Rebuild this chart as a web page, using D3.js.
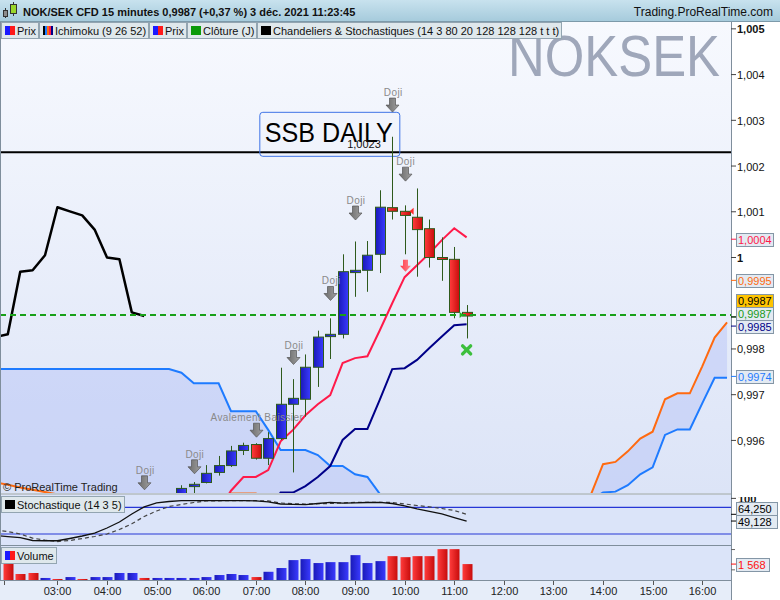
<!DOCTYPE html>
<html>
<head>
<meta charset="utf-8">
<script src="https://cdn.jsdelivr.net/npm/d3@7"></script>
<style>
  body { margin: 0; background: #fff; }
  svg { display: block; font-family: "Liberation Sans", Arial, sans-serif; }
</style>
</head>
<body>
<svg id="chart" width="780" height="600"></svg>
<script>

// bar 0 = 02:00, one bar every 15 minutes; candles below the price window are not listed
var candleStart = 14;
var opens  = [0.99476, 0.99499, 0.99508, 0.99530, 0.99545, 0.99578, 0.99591, 0.99561, 0.99604, 0.99679, 0.99690, 0.99760,
              0.99827, 0.99832, 0.99967, 0.99972, 1.00007, 1.00109, 1.00101, 1.00088, 1.00063, 1.00000, 0.99996, 0.99880];
var highs  = [0.99502, 0.99509, 0.99546, 0.99566, 0.99588, 0.99595, 0.99594, 0.99618, 0.99759, 0.99734, 0.99788, 0.99840,
              0.99867, 1.00007, 1.00035, 1.00036, 1.00147, 1.00264, 1.00114, 1.00151, 1.00083, 1.00044, 1.00023, 0.99896];
var lows   = [0.99470, 0.99476, 0.99506, 0.99523, 0.99542, 0.99568, 0.99558, 0.99546, 0.99601, 0.99530, 0.99652, 0.99717,
              0.99778, 0.99823, 0.99914, 0.99925, 0.99966, 1.00083, 1.00007, 0.99958, 0.99978, 0.99949, 0.99867, 0.99823];
var closes = [0.99495, 0.99504, 0.99528, 0.99545, 0.99577, 0.99589, 0.99561, 0.99604, 0.99679, 0.99692, 0.99760, 0.99826,
              0.99832, 0.99969, 0.99972, 1.00005, 1.00110, 1.00101, 1.00092, 1.00061, 1.00000, 0.99996, 0.99880, 0.99872];

var volumes = [1700, 590, 690, 200, 100, 290, 100, 290, 290, 690, 690, 200, 200, 200, 200, 200, 290, 490, 590,
               490, 290, 810, 1180, 1960, 2060, 1670, 1760, 1760, 2450, 1670, 1860, 2350, 2250, 2350, 2350, 3040, 3040, 1568];
var volumeDown = [1, 1, 1, 0, 1, 0, 1, 0, 0, 0, 0, 1, 0, 0, 0, 0, 0, 0, 0, 0, 1, 0, 0, 0, 0, 0, 0, 0, 0, 0, 0,
                  1, 1, 1, 1, 1, 1, 1];

// Ichimoku (9 26 52)
var tenkanStart = 17;
var tenkan = [0.99448, 0.99490, 0.99520, 0.99520, 0.99535, 0.99598, 0.99623, 0.99655, 0.99679, 0.99699, 0.99769,
              0.99780, 0.99784, 0.99841, 0.99900, 0.99957, 0.99983, 1.00009, 1.00038, 1.00064, 1.00044];
var kijunStart = 21;
var kijun = [0.99448, 0.99486, 0.99486, 0.99500, 0.99520, 0.99544, 0.99601, 0.99625, 0.99625, 0.99689, 0.99756,
             0.99758, 0.99776, 0.99802, 0.99827, 0.99852, 0.99854];
var cloudStart = -1;
var ssa = [0.99756, 0.99756, 0.99756, 0.99756, 0.99756, 0.99756, 0.99756, 0.99756, 0.99756, 0.99756, 0.99756,
           0.99756, 0.99756, 0.99756, 0.99756, 0.99748, 0.99725, 0.99725, 0.99725, 0.99664, 0.99664, 0.99664,
           0.99623, 0.99579, 0.99579, 0.99579, 0.99568, 0.99544, 0.99544, 0.99526, 0.99520, 0.99483,
           null, null, null, null, null, null, null, null, null, null, null, null, null, null, null, null,
           0.99470, 0.99486, 0.99488, 0.99502, 0.99526, 0.99541, 0.99612, 0.99624, 0.99624, 0.99681, 0.99737, 0.99737];
var ssb = [0.99508, 0.99503, 0.99497, 0.99492, 0.99487, 0.99482, 0.99476,
           null, null, null, null, null, null, null, null, null, null, null,
           0.99470, 0.99484, 0.99484, 0.99484, 0.99470,
           null, null, null, null, null, null, null, null, null, null, null, null, null, null, null, null,
           null, null, null, null, null, null, null, null, null,
           0.99480, 0.99548, 0.99553, 0.99576, 0.99604, 0.99619, 0.99690, 0.99703, 0.99703, 0.99762, 0.99825, 0.99858];
var chikouShift = 26;

// Stochastique (14 3 5), from bar -1
var stochStart = -1;
var stochK = [16.6, 13.9, 11.7, 5.4, 4.9, 4.9, 9.9, 15.5, 22.2, 33.5, 47, 65, 81, 89.7, 93, 94.8, 94.8, 94.8, 94.8,
              94.8, 94.8, 94.6, 92, 87.4, 86.5, 85.8, 88.5, 91, 89.2, 90, 90.8, 91.2, 88.5, 83.4, 76.2, 70.6, 65, 57, 49.128];
var stochD = [29, 25.6, 20, 10.6, 6.5, 3.1, 5.4, 9.9, 14.4, 20, 30, 43, 59.3, 71.7, 81.8, 86.3, 90.8, 94.2, 94.6,
              94.8, 94.8, 94.8, 94.2, 89.7, 87.9, 87.4, 87.9, 88.5, 90, 91, 91.2, 91.2, 90.8, 87.4, 84, 81.1, 77.3, 72.8, 64.25];
var stochLevels = [80, 20];

var closeDaily = 0.99874;
var ssbDaily = 1.0023;
var ssbDailyBar = 30;

// candle pattern markers
var patternBars  = [11, 15, 20, 23, 26, 28, 31, 32];
var patternNames = ['Doji', 'Doji', 'Avalement Baissier', 'Doji', 'Doji', 'Doji', 'Doji', 'Doji'];
var patternTips  = [0.99492, 0.99527, 0.99607, 0.99766, 0.99906, 1.00082, 1.00318, 1.00167];
var sellBar = 32, sellTip = 0.99969;
var crossBar = 37, crossPrice = 0.99798;

var priceTicks = [1.005, 1.004, 1.003, 1.002, 1.001, 1.000, 0.998, 0.997, 0.996];
var priceTickLabels = ['1,005', '1,004', '1,003', '1,002', '1,001', '1', '0,998', '0,997', '0,996'];
var hourLabels = ['03:00', '04:00', '05:00', '06:00', '07:00', '08:00', '09:00', '10:00', '11:00', '12:00',
                  '13:00', '14:00', '15:00', '16:00'];

var valueLabels = ['1,0004', '0,9995', '0,9987', '0,9987', '0,9985', '0,9974'];
var valueLevels = [1.0004, 0.9995, 0.9987, 0.9987, 0.9985, 0.9974];
var valueColors = ['#ff1a4a', '#ff6a10', '#1a9a1a', '#000000', '#000088', '#1e7bff'];
var valueFills  = ['#e3eaf2', '#e3eaf2', '#e3eaf2', '#ffc400', '#e3eaf2', '#e3eaf2'];

var legendNames = ['Prix', 'Ichimoku (9 26 52)', 'Prix', 'Clôture (J)',
                   'Chandeliers & Stochastiques (14 3 80 20 128 128 128 t t t)'];
var legendIcons = [['#1a1aff', '#ff1a1a'], ['#000000', '#1e7bff', '#ff6a10', '#ff1a4a', '#000088'],
                   ['#1a1aff', '#ff1a1a'], ['#0a9a0a'], ['#000000']];

var svg = d3.select('#chart'),
    axisX = 731,
    mainTop = 22, mainBottom = 493,
    stoTop = 495, stoBottom = 545,
    volTop = 546, volBottom = 580;

var x = d3.scaleLinear().domain([-0.63, 58.32]).range([0, axisX]),
    y = d3.scaleLinear().domain([0.99485, 1.00515]).range([mainBottom, mainTop]),
    yS = d3.scaleLinear().domain([-4.7, 107.6]).range([stoBottom, stoTop]),
    yV = d3.scaleLinear().domain([0, 3350]).range([volBottom, volTop]);

var defs = svg.append('defs');

function gradient(id, vertical, stops) {
  var g = defs.append('linearGradient').attr('id', id)
      .attr('x1', 0).attr('y1', 0).attr('x2', vertical ? 0 : 1).attr('y2', vertical ? 1 : 0);
  stops.forEach(function(s, i) {
    g.append('stop').attr('offset', i / (stops.length - 1)).attr('stop-color', s);
  });
}
gradient('bgMain', true, ['#f7f9fe', '#dce4f7']);
gradient('bgHead', true, ['#c8e2ee', '#a6cbdc']);
gradient('gBlue', false, ['#1a1ab8', '#3a3aff']);
gradient('gRed', false, ['#ff3c3c', '#c80c0c']);
gradient('gArrow', false, ['#6c6c6c', '#a0a0a0']);
gradient('gSell', false, ['#ff3848', '#ff8890']);

function clip(id, x0, y0, w, h) {
  defs.append('clipPath').attr('id', id)
    .append('rect').attr('x', x0).attr('y', y0).attr('width', w).attr('height', h);
}
clip('cMain', 0, mainTop, axisX, mainBottom - mainTop);
clip('cSto', 0, stoTop, axisX, stoBottom - stoTop);
clip('cStoAxis', axisX, stoTop + 2, 49, stoBottom - stoTop - 2);

// backgrounds
svg.append('rect').attr('width', 780).attr('height', 600).attr('fill', '#ffffff');
svg.append('rect').attr('x', 0).attr('y', mainTop).attr('width', axisX).attr('height', mainBottom - mainTop)
    .attr('fill', 'url(#bgMain)');
svg.append('rect').attr('x', 0).attr('y', stoTop).attr('width', axisX).attr('height', stoBottom - stoTop)
    .attr('fill', '#dbe4f9');
svg.append('rect').attr('x', 0).attr('y', volTop).attr('width', axisX).attr('height', volBottom - volTop)
    .attr('fill', '#dbe4f9');
svg.append('rect').attr('x', 0).attr('y', volBottom).attr('width', axisX).attr('height', 600 - volBottom)
    .attr('fill', '#e6edf9');

// ---------- main panel ----------
var main = svg.append('g').attr('clip-path', 'url(#cMain)');

main.append('text')
    .attr('x', 720).attr('y', 76).attr('text-anchor', 'end')
    .attr('font-size', 58).attr('textLength', 212).attr('lengthAdjust', 'spacingAndGlyphs')
    .attr('fill', '#9fa7ba')
    .text('NOKSEK');

var cloudIdx = ssa.map(function(d, i) { return i; });
main.append('path')
    .attr('d', d3.area()
        .defined(function(i) { return ssa[i] != null || ssb[i] != null; })
        .x(function(i) { return x(cloudStart + i); })
        .y0(function(i) { return ssa[i] == null ? mainBottom + 6 : y(ssa[i]); })
        .y1(function(i) { return ssb[i] == null ? mainBottom + 6 : y(ssb[i]); })(cloudIdx))
    .attr('fill', '#b4c0f6').attr('fill-opacity', 0.45);

function series(start, yScale) {
  return d3.line()
      .defined(function(d) { return d != null; })
      .x(function(d, i) { return x(start + i); })
      .y(function(d) { return yScale(d); });
}

main.append('path').attr('d', series(cloudStart, y)(ssb))
    .attr('fill', 'none').attr('stroke', '#ff6a10').attr('stroke-width', 2);
main.append('path').attr('d', series(cloudStart, y)(ssa))
    .attr('fill', 'none').attr('stroke', '#1e7bff').attr('stroke-width', 2);

// lagging span: closes drawn 26 bars back
main.append('path').attr('d', series(candleStart - chikouShift, y)(closes))
    .attr('fill', 'none').attr('stroke', '#000').attr('stroke-width', 2.5).attr('stroke-linejoin', 'round');

main.append('path').attr('d', series(tenkanStart, y)(tenkan))
    .attr('fill', 'none').attr('stroke', '#ff1a4a').attr('stroke-width', 2);
main.append('path').attr('d', series(kijunStart, y)(kijun))
    .attr('fill', 'none').attr('stroke', '#000088').attr('stroke-width', 2);

// SSB daily level
main.append('line')
    .attr('x1', 0).attr('x2', axisX).attr('y1', y(ssbDaily)).attr('y2', y(ssbDaily))
    .attr('stroke', '#000').attr('stroke-width', 2);
main.append('rect')
    .attr('x', x(ssbDailyBar) - 120).attr('y', y(ssbDaily) - 40)
    .attr('width', 140).attr('height', 44).attr('rx', 3)
    .attr('fill', 'none').attr('stroke', '#3f74e6').attr('stroke-width', 1);
main.append('text')
    .attr('x', x(ssbDailyBar) - 115).attr('y', y(ssbDaily) - 10)
    .attr('font-size', 27).attr('textLength', 128).attr('lengthAdjust', 'spacingAndGlyphs')
    .attr('fill', '#000')
    .text('SSB DAILY');
main.append('text')
    .attr('x', x(ssbDailyBar) + 1).attr('y', y(ssbDaily) - 4).attr('text-anchor', 'end')
    .attr('font-size', 11).attr('fill', '#111')
    .text('1,0023');

// candles
var candles = opens.map(function(o, i) {
  return { k: candleStart + i, o: o, h: highs[i], l: lows[i], c: closes[i] };
});
var cg = main.append('g').selectAll('g').data(candles).enter().append('g');
cg.append('line')
    .attr('x1', function(d) { return Math.round(x(d.k)) + 0.5; })
    .attr('x2', function(d) { return Math.round(x(d.k)) + 0.5; })
    .attr('y1', function(d) { return y(d.h); })
    .attr('y2', function(d) { return y(d.l); })
    .attr('stroke', '#2e5a1c').attr('stroke-width', 1);
cg.append('rect')
    .attr('x', function(d) { return Math.round(x(d.k)) - 4.5; })
    .attr('y', function(d) { return y(Math.max(d.o, d.c)); })
    .attr('width', 10)
    .attr('height', function(d) { return Math.max(2, Math.abs(y(d.o) - y(d.c))); })
    .attr('fill', function(d) { return d.c >= d.o ? 'url(#gBlue)' : 'url(#gRed)'; })
    .attr('stroke', '#2e5a1c').attr('stroke-width', 1);

// daily close
main.append('line')
    .attr('x1', 0).attr('x2', axisX).attr('y1', y(closeDaily)).attr('y2', y(closeDaily))
    .attr('stroke', '#18a018').attr('stroke-width', 2).attr('stroke-dasharray', '6,4');

// pattern arrows
var pat = main.append('g').selectAll('g').data(patternBars).enter().append('g');
pat.append('path')
    .attr('d', function(k, i) {
      var cx = Math.round(x(k)) + 0.5, ty = y(patternTips[i]);
      return 'M' + (cx - 3) + ',' + (ty - 14) + 'h6v7h3.5l-6.5,7l-6.5,-7h3.5z';
    })
    .attr('fill', 'url(#gArrow)').attr('stroke', '#555').attr('stroke-width', 0.7);
pat.append('text')
    .attr('x', function(k) { return x(k) + 1; })
    .attr('y', function(k, i) { return y(patternTips[i]) - 16; })
    .attr('text-anchor', 'middle').attr('font-size', 10).attr('letter-spacing', 0.4)
    .attr('fill', '#8a8a8a')
    .text(function(k, i) { return patternNames[i]; });

main.append('path')
    .attr('d', function() {
      var cx = Math.round(x(sellBar)) + 0.5, ty = y(sellTip);
      return 'M' + (cx - 2.5) + ',' + (ty - 12) + 'h5v6h3l-5.5,6l-5.5,-6h3z';
    })
    .attr('fill', 'url(#gSell)');

main.append('path')
    .attr('d', function() {
      var cx = x(crossBar), cy = y(crossPrice);
      return 'M' + (cx - 4) + ',' + (cy - 4) + 'L' + (cx + 4) + ',' + (cy + 4) +
             'M' + (cx - 4) + ',' + (cy + 4) + 'L' + (cx + 4) + ',' + (cy - 4);
    })
    .attr('stroke', '#3cbf3c').attr('stroke-width', 3.5).attr('stroke-linecap', 'round');

// small flags of the candle indicator
main.append('path')
    .attr('d', 'M' + (x(32) + 5) + ',' + y(closes[32 - candleStart - 1]) + 'l4,-3.5v7z')
    .attr('fill', '#ff2a2a');
main.append('path')
    .attr('d', 'M' + (x(37) - 3) + ',' + (y(closes[37 - candleStart]) - 1) + 'l-4,-3v6z')
    .attr('fill', '#22b022');

main.append('text')
    .attr('x', 3).attr('y', 491).attr('font-size', 11).attr('fill', '#222')
    .text('© ProRealTime Trading');

// ---------- stochastic panel ----------
var sto = svg.append('g').attr('clip-path', 'url(#cSto)');
stochLevels.forEach(function(v) {
  sto.append('line').attr('x1', 0).attr('x2', axisX).attr('y1', yS(v)).attr('y2', yS(v))
      .attr('stroke', '#2636d6').attr('stroke-width', 1.2);
});
sto.append('path').attr('d', series(stochStart, yS)(stochD))
    .attr('fill', 'none').attr('stroke', '#444').attr('stroke-width', 1.2).attr('stroke-dasharray', '4,3');
sto.append('path').attr('d', series(stochStart, yS)(stochK))
    .attr('fill', 'none').attr('stroke', '#111').attr('stroke-width', 1.3);

// ---------- volume panel ----------
svg.append('g').selectAll('rect').data(volumes).enter().append('rect')
    .attr('x', function(d, i) { return Math.round(x(i)) - 4.5; })
    .attr('y', function(d) { return yV(d); })
    .attr('width', 10)
    .attr('height', function(d) { return volBottom - yV(d); })
    .attr('fill', function(d, i) { return volumeDown[i] ? 'url(#gRed)' : 'url(#gBlue)'; });

// ---------- frames ----------
var frame = svg.append('g').attr('stroke', '#7f8e9c').attr('stroke-width', 1).attr('fill', 'none');
[mainBottom + 1, stoBottom + 0.5, volBottom + 0.5].forEach(function(yy) {
  frame.append('line').attr('x1', 0).attr('x2', axisX).attr('y1', yy).attr('y2', yy);
});
frame.append('line').attr('x1', axisX + 0.5).attr('x2', axisX + 0.5).attr('y1', mainTop).attr('y2', 600);
frame.append('line').attr('x1', 0.5).attr('x2', 0.5).attr('y1', mainTop).attr('y2', volBottom);

// time axis
var hours = svg.append('g');
hourLabels.forEach(function(t, i) {
  var xx = Math.round(x(4 * (i + 1))) + 0.5;
  hours.append('line').attr('x1', xx).attr('x2', xx).attr('y1', volBottom + 1).attr('y2', volBottom + 5)
      .attr('stroke', '#555');
  hours.append('text').attr('x', xx).attr('y', 595).attr('text-anchor', 'middle')
      .attr('font-size', 11).attr('fill', '#222').text(t);
});
hours.append('line').attr('x1', Math.round(x(0)) - 3.5).attr('x2', Math.round(x(0)) - 3.5)
    .attr('y1', volBottom + 1).attr('y2', volBottom + 5).attr('stroke', '#555');

// price axis
var pa = svg.append('g');
priceTicks.forEach(function(v, i) {
  pa.append('line').attr('x1', axisX).attr('x2', axisX + 5).attr('y1', y(v)).attr('y2', y(v))
      .attr('stroke', '#444');
  pa.append('text').attr('x', axisX + 6).attr('y', y(v) + 4.5)
      .attr('font-size', 11).attr('fill', '#111')
      .attr('font-weight', (v === 1.005 || v === 1) ? 'bold' : 'normal')
      .text(priceTickLabels[i]);
});

// value boxes pushed upward when they overlap
function stack(levels, yScale, h) {
  var order = levels.map(function(v, i) { return i; })
      .sort(function(a, b) { return yScale(levels[b]) - yScale(levels[a]); });
  var pos = [], prev = Infinity;
  order.forEach(function(i) { pos[i] = Math.min(yScale(levels[i]), prev - h); prev = pos[i]; });
  return pos;
}
function valueBox(g, yy, yTrue, label, color, fill, width) {
  g.append('line').attr('x1', axisX).attr('x2', axisX + 5).attr('y1', yTrue).attr('y2', yTrue)
      .attr('stroke', color);
  g.append('rect').attr('x', axisX + 5.5).attr('y', Math.round(yy - 6.5) + 0.5)
      .attr('width', width).attr('height', 13)
      .attr('fill', fill).attr('stroke', '#8496a6');
  g.append('text').attr('x', axisX + 7).attr('y', Math.round(yy - 6.5) + 11)
      .attr('font-size', 11).attr('fill', color).text(label);
}
var vpos = stack(valueLevels, y, 13);
valueLabels.forEach(function(t, i) {
  valueBox(pa, vpos[i], y(valueLevels[i]), t, valueColors[i], valueFills[i], 37);
});

// stochastic axis
var sa = svg.append('g');
sa.append('text').attr('x', axisX + 7).attr('y', yS(100) + 4.5).attr('clip-path', 'url(#cStoAxis)')
    .attr('font-size', 11).attr('font-weight', 'bold').attr('fill', '#111').text('100');
sa.append('line').attr('x1', axisX).attr('x2', axisX + 5).attr('y1', yS(100)).attr('y2', yS(100))
    .attr('stroke', '#444');
var stoLevels = [stochD[stochD.length - 1], stochK[stochK.length - 1]];
var spos = stack(stoLevels, yS, 13);
['64,250', '49,128'].forEach(function(t, i) {
  valueBox(sa, spos[i], yS(stoLevels[i]), t, '#000', '#e3eaf2', 41);
});

// volume axis
[1000, 3000].forEach(function(v) {
  sa.append('line').attr('x1', axisX).attr('x2', axisX + 4).attr('y1', yV(v)).attr('y2', yV(v))
      .attr('stroke', '#666');
});
valueBox(sa, yV(volumes[volumes.length - 1]), yV(volumes[volumes.length - 1]), '1 568', '#ff1010', '#e3eaf2', 33);

// ---------- header ----------
svg.append('rect').attr('width', 780).attr('height', 21).attr('fill', 'url(#bgHead)');
svg.append('line').attr('x1', 0).attr('x2', 780).attr('y1', 21.5).attr('y2', 21.5).attr('stroke', '#7d9aaa');
var icon = svg.append('g').attr('stroke', '#333').attr('stroke-width', 1);
icon.append('line').attr('x1', 5.5).attr('x2', 5.5).attr('y1', 8).attr('y2', 18);
icon.append('rect').attr('x', 3.5).attr('y', 10.5).attr('width', 4).attr('height', 6).attr('fill', '#8c8c8c');
icon.append('line').attr('x1', 13.5).attr('x2', 13.5).attr('y1', 2).attr('y2', 16);
icon.append('rect').attr('x', 10.5).attr('y', 4.5).attr('width', 6).attr('height', 9).attr('fill', '#9ad62a');
svg.append('text').attr('x', 23).attr('y', 15.5)
    .attr('font-size', 11).attr('font-weight', 'bold').attr('fill', '#111')
    .text('NOK/SEK CFD 15 minutes 0,9987 (+0,37 %) 3 déc. 2021 11:23:45');
svg.append('text').attr('x', 773).attr('y', 15.5).attr('text-anchor', 'end')
    .attr('font-size', 12).attr('fill', '#111')
    .text('Trading.ProRealTime.com');

function tab(x0, y0, label, colors, size) {
  var g = svg.append('g');
  var bg = g.append('rect').attr('x', x0 + 0.5).attr('y', y0 + 0.5).attr('height', 16)
      .attr('fill', '#dfe8ec').attr('stroke', '#93a5b1');
  var w = 10 / colors.length;
  colors.forEach(function(c, i) {
    g.append('rect').attr('x', x0 + 4 + i * w).attr('y', y0 + 4).attr('width', w).attr('height', 9)
        .attr('fill', c);
  });
  var t = g.append('text').attr('x', x0 + 16).attr('y', y0 + 12.5)
      .attr('font-size', size).attr('fill', '#111').text(label);
  var width = Math.round(16 + t.node().getComputedTextLength() + 2);
  bg.attr('width', width);
  return x0 + width + 1;
}
var tx = 1;
legendNames.forEach(function(n, i) { tx = tab(tx, 22, n, legendIcons[i], 11); });
tab(1, stoTop + 1, 'Stochastique (14 3 5)', ['#000000'], 11);
tab(1, volTop + 1, 'Volume', ['#1a1aff', '#ff1a1a'], 11);

</script>
</body>
</html>
